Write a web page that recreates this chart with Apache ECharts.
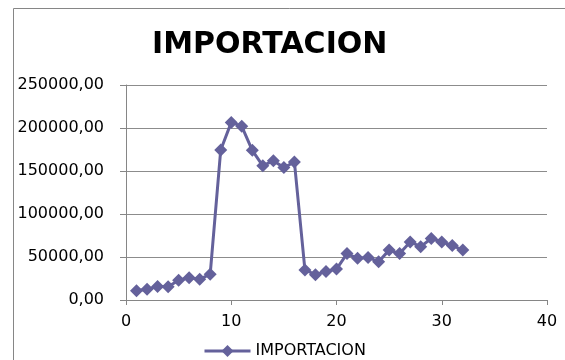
<!DOCTYPE html>
<html><head><meta charset="utf-8">
<script src="https://cdn.jsdelivr.net/npm/echarts@6/dist/echarts.min.js"></script>
<style>html,body{margin:0;padding:0;background:#fff}#c{width:565px;height:360px}</style>
</head><body><div id="c"></div>
<script>
var xValues = [1,2,3,4,5,6,7,8,9,10,11,12,13,14,15,16,17,18,19,20,21,22,23,24,25,26,27,28,29,30,31,32];
var importacion = [10800,12400,15800,15500,23000,26000,24000,30000,174500,206500,202000,174000,156000,162000,154000,160500,35000,29500,33000,36000,54000,48500,49500,44500,58000,54000,67500,62000,71500,67500,63500,58000];
var seriesName = 'IMPORTACION';
var titleText = 'IMPORTACION';

var chart = echarts.init(document.getElementById('c'));
var col = '#64619B';
chart.setOption({
  animation: false,
  backgroundColor: '#fff',
  graphic: [{type:'rect', shape:{x:13.5,y:8.5,width:700,height:500}, style:{fill:'none', stroke:'#868686', lineWidth:1}, silent:true}],
  title: {text: titleText, left: 147, top: 25, textStyle:{fontFamily:'DejaVu Sans', fontWeight:'bold', fontSize:30, color:'#000'}},
  legend: {top: 338, left: 198, itemWidth: 46, itemHeight: 15, itemGap: 4,
    lineStyle:{width:3},
    textStyle:{fontFamily:'DejaVu Sans', fontSize:16, color:'#000'}, data:[seriesName]},
  grid: {left: 126, right: 18, top: 85, bottom: 60},
  xAxis: {type:'value', min:0, max:40, interval:10,
    axisLine:{show:true, lineStyle:{color:'#868686'}},
    axisTick:{show:true, length:5, lineStyle:{color:'#868686'}},
    splitLine:{show:false},
    axisLabel:{fontFamily:'DejaVu Sans', fontSize:16, color:'#000', margin:14}},
  yAxis: {type:'value', min:0, max:250000, interval:50000,
    axisLine:{show:true, lineStyle:{color:'#868686'}},
    axisTick:{show:true, inside:false, length:6, lineStyle:{color:'#868686'}},
    splitLine:{show:true, lineStyle:{color:'#8c8c8c'}},
    axisLabel:{fontFamily:'DejaVu Sans', fontSize:16, color:'#000', margin:22,
      formatter:function(v){return v.toFixed(2).replace('.', ',');}}},
  series: [{name: seriesName, type:'line', data: xValues.map(function(x,i){return [x, importacion[i]];}),
    symbol:'diamond', symbolSize:13, lineStyle:{color:col, width:3}, itemStyle:{color:col}}]
});
</script></body></html>
